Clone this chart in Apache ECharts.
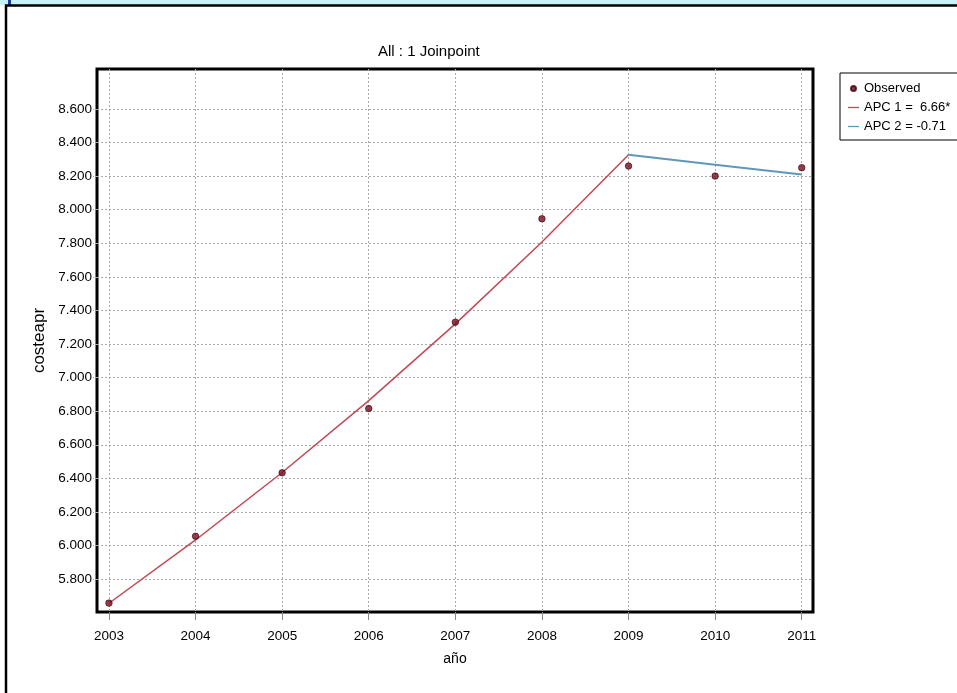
<!DOCTYPE html>
<html>
<head>
<meta charset="utf-8">
<script src="https://cdn.jsdelivr.net/npm/echarts@6/dist/echarts.min.js"></script>
<style>
  html, body { margin: 0; padding: 0; background: #fff; }
  #chart { width: 957px; height: 693px; }
</style>
</head>
<body>
<div id="chart"></div>
<script>
// Years on the x axis
const years = [2003, 2004, 2005, 2006, 2007, 2008, 2009, 2010, 2011];
// Observed cost per year
const observed = [5657, 6055, 6433, 6816, 7330, 7946, 8260, 8200, 8250];
// Fitted joinpoint segments (segment 1: 2003-2009, segment 2: 2009-2011)
const seg1Years = [2003, 2004, 2005, 2006, 2007, 2008, 2009];
const seg1Fit = [5656, 6033, 6435, 6863, 7320, 7808, 8327];
const seg2Years = [2009, 2010, 2011];
const seg2Fit = [8327, 8268, 8209];
// Y tick values
const yTicks = [5800, 6000, 6200, 6400, 6600, 6800, 7000, 7200, 7400, 7600, 7800, 8000, 8200, 8400, 8600];
// Legend labels
const nameObserved = 'Observed';
const nameApc1 = 'APC 1 =  6.66*';
const nameApc2 = 'APC 2 = -0.71';

const FONT = "'Liberation Sans', Arial, sans-serif";
const RED = '#c24852';
const BLUE = '#5f98b8';
const LINE_ICON = 'path://M0,0H12V1.4H0Z';

const pairs = (xs, ys) => xs.map((x, i) => [x, ys[i]]);

const chart = echarts.init(document.getElementById('chart'), null, { renderer: 'canvas' });

chart.setOption({
  animation: false,
  backgroundColor: '#ffffff',
  textStyle: { fontFamily: FONT },
  graphic: [
    { type: 'rect', z: -10, shape: { x: 0, y: 0, width: 957, height: 5 }, style: { fill: '#c6f3fa' } },
    { type: 'rect', z: -10, shape: { x: 8, y: 0, width: 3, height: 5 }, style: { fill: '#1d3f8f' } },
    { type: 'rect', z: -10, shape: { x: 6, y: 5.5, width: 980, height: 720 }, style: { fill: 'none', stroke: '#000', lineWidth: 2.5 } }
  ],
  title: {
    text: 'All : 1 Joinpoint',
    left: 373,
    top: 39,
    textStyle: { fontFamily: FONT, fontSize: 15, fontWeight: 'normal', color: '#000' }
  },
  legend: {
    orient: 'vertical',
    left: 840,
    top: 73,
    padding: [9, 30, 7, 8],
    itemGap: 6,
    itemWidth: 11,
    itemHeight: 5,
    symbolKeepAspect: true,
    backgroundColor: '#fff',
    borderColor: '#000',
    borderWidth: 1,
    textStyle: { fontFamily: FONT, fontSize: 13, color: '#000' },
    data: [
      { name: nameObserved, icon: 'circle' },
      { name: nameApc1, icon: LINE_ICON },
      { name: nameApc2, icon: LINE_ICON }
    ]
  },
  grid: {
    left: 97,
    top: 69,
    right: 144,
    bottom: 81,
    show: true,
    borderColor: '#000',
    borderWidth: 3,
    backgroundColor: '#fff'
  },
  xAxis: {
    type: 'value',
    min: 2002.862,
    max: 2011.13,
    name: 'año',
    nameLocation: 'middle',
    nameGap: 40,
    nameTextStyle: { fontFamily: FONT, fontSize: 14, color: '#000' },
    axisLine: { show: false },
    axisTick: { show: true, length: 8, lineStyle: { color: '#888', width: 1 }, customValues: years },
    axisLabel: {
      customValues: years,
      margin: 17,
      fontFamily: FONT,
      fontSize: 13.5,
      color: '#000',
      formatter: v => String(v)
    },
    splitLine: { show: true, lineStyle: { color: '#a8a8a8', type: [2, 2], width: 1 } }
  },
  yAxis: {
    type: 'value',
    min: 5604,
    max: 8838,
    name: 'costeapr',
    nameLocation: 'middle',
    nameGap: 40,
    nameTextStyle: { fontFamily: FONT, fontSize: 17, color: '#000' },
    axisLine: { show: false },
    axisTick: { show: true, length: 4, lineStyle: { color: '#a8a8a8', type: [2, 1] }, customValues: yTicks },
    axisLabel: {
      customValues: yTicks,
      margin: 5,
      fontFamily: FONT,
      fontSize: 13.5,
      color: '#000',
      formatter: v => (v / 1000).toFixed(3)
    },
    splitLine: { show: true, lineStyle: { color: '#a8a8a8', type: [2, 2], width: 1 } }
  },
  series: [
    {
      name: nameApc1,
      type: 'line',
      data: pairs(seg1Years, seg1Fit),
      symbol: 'none',
      clip: false,
      lineStyle: { color: RED, width: 1.5 },
      itemStyle: { color: RED },
      z: 3
    },
    {
      name: nameApc2,
      type: 'line',
      data: pairs(seg2Years, seg2Fit),
      symbol: 'none',
      clip: false,
      lineStyle: { color: BLUE, width: 2 },
      itemStyle: { color: BLUE },
      z: 3
    },
    {
      name: nameObserved,
      type: 'scatter',
      data: pairs(years, observed),
      symbol: 'circle',
      symbolSize: 6.5,
      clip: false,
      itemStyle: { color: '#7a0e1e', borderColor: '#3a0008', borderWidth: 0.8 },
      z: 4
    }
  ]
});
</script>
</body>
</html>
